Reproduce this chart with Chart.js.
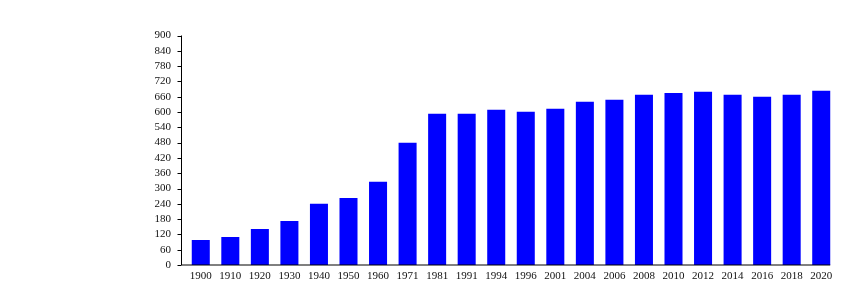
<!DOCTYPE html>
<html>
<head>
<meta charset="utf-8">
<script src="https://cdn.jsdelivr.net/npm/chart.js@4"></script>
<style>
  html, body { margin: 0; padding: 0; background: #fff; }
  #wrap { width: 850px; height: 300px; }
</style>
</head>
<body>
<div id="wrap"><canvas id="chart" width="850" height="300"></canvas></div>
<script>
// chart data
const years = ['1900', '1910', '1920', '1930', '1940', '1950', '1960', '1971', '1981', '1991', '1994',
               '1996', '2001', '2004', '2006', '2008', '2010', '2012', '2014', '2016', '2018', '2020'];
const population = [98, 110, 141, 173, 240, 263, 326, 479, 593, 593, 609,
                    601, 613, 640, 648, 668, 675, 679, 668, 660, 668, 683];
const yMin = 0;
const yMax = 900;
const yStep = 60;

// axis lines sit a few px left of the bars' band, like the original
const axisLines = {
    id: 'axisLines',
    afterDraw(chart) {
        const ctx = chart.ctx;
        const area = chart.chartArea;
        const y = chart.scales.y;
        const x0 = Math.round(area.left - 5) + 0.5;
        const xEnd = chart.scales.x.getPixelForValue(years.length - 1) + 9;
        ctx.save();
        ctx.strokeStyle = '#000';
        ctx.lineWidth = 1;
        ctx.beginPath();
        ctx.moveTo(x0, y.getPixelForValue(yMax));
        ctx.lineTo(x0, y.getPixelForValue(yMin));
        ctx.lineTo(xEnd, y.getPixelForValue(yMin));
        y.ticks.forEach(t => {
            const py = Math.round(y.getPixelForValue(t.value)) + 0.5;
            ctx.moveTo(x0 - 4, py);
            ctx.lineTo(x0, py);
        });
        ctx.stroke();
        ctx.restore();
    }
};

const ctx = document.getElementById('chart').getContext('2d');
new Chart(ctx, {
    type: 'bar',
    data: {
        labels: years,
        datasets: [{
            data: population,
            backgroundColor: '#0000ff',
            borderWidth: 0,
            barPercentage: 0.61,
            categoryPercentage: 1
        }]
    },
    options: {
        responsive: false,
        animation: false,
        layout: { padding: { top: 35.5, right: 14, left: 0, bottom: 0 } },
        plugins: {
            legend: { display: false },
            tooltip: { enabled: false }
        },
        scales: {
            x: {
                offset: true,
                grid: { display: false, drawTicks: false },
                border: { display: false },
                ticks: {
                    color: '#111',
                    padding: 5,
                    maxRotation: 0,
                    autoSkip: false,
                    font: { family: 'Liberation Serif', size: 11 }
                },
                afterFit(scale) { scale.height = 35; }
            },
            y: {
                min: yMin,
                max: yMax,
                grid: { display: false, drawTicks: false },
                border: { display: false },
                ticks: {
                    stepSize: yStep,
                    autoSkip: false,
                    color: '#111',
                    padding: 15,
                    font: { family: 'Liberation Serif', size: 11 }
                },
                afterFit(scale) { scale.width = 186; }
            }
        }
    },
    plugins: [axisLines]
});
</script>
</body>
</html>
